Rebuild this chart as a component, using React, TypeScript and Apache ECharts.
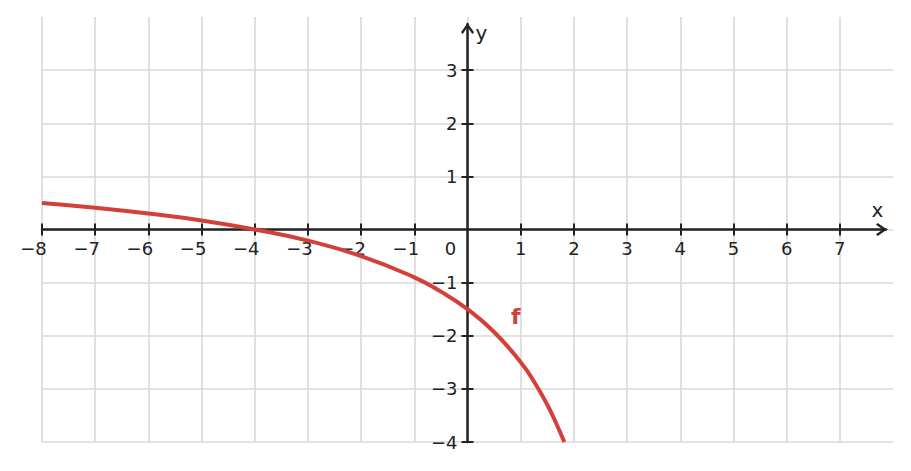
import React, { useEffect, useRef } from "react";
import * as echarts from "echarts";

// ---- data ----
const X_TICKS = [-8, -7, -6, -5, -4, -3, -2, -1, 1, 2, 3, 4, 5, 6, 7];
const X_LABELS = [-8, -7, -6, -5, -4, -3, -2, -1, 0, 1, 2, 3, 4, 5, 6, 7];
const Y_TICKS = [-4, -3, -2, -1, 1, 2, 3];
const Y_LABELS = [-4, -3, -2, -1, 1, 2, 3];
const CURVE_X = [-8, -7, -6, -5, -4, -3, -2, -1, -0.5, 0, 0.5, 1, 1.25, 1.5, 1.65, 1.82];
const CURVE_Y = [0.5, 0.41, 0.3, 0.17, 0, -0.21, -0.5, -0.9, -1.17, -1.5, -1.93, -2.5, -2.86, -3.3, -3.61, -4.0];
const CURVE_NAME = "f";
const CURVE_LABEL_AT = [0.91, -1.63];

const W = 911;
const H = 471;
const FONT = "DejaVu Sans";
const AXIS_COLOR = "#222222";
const GRID_COLOR = "#d9d9d9";
const CURVE_COLOR = "#d43f3a";

const ARROW = "path://M6.5,0L13,9.3L11.3,11L6.5,4.1L1.7,11L0,9.3Z";

export default function App() {
  const ref = useRef<HTMLDivElement>(null);
  useEffect(() => {
    document.body.style.margin = "0";
    if (!ref.current) return;
    const chart = echarts.init(ref.current, undefined, { renderer: "svg" });

    const L = 42, R = 18, T = 17, B = 29;
    const ux = (W - L - R) / 16;
    const uy = (H - T - B) / 8;
    const R1 = 25, T1 = 24;
    const xMax1 = -8 + (W - L - R1) / ux;
    const yMax1 = -4 + (H - T1 - B) / uy;
    // pixel distance of the zero lines from the grid-1 edges
    const zeroFromBottom = 4 * uy;
    const zeroFromTop = (H - T1 - B) - zeroFromBottom;
    const zeroFromLeft = 8 * ux;
    const zeroFromRight = (W - L - R1) - zeroFromLeft;

    const base = { fontFamily: FONT, fontSize: 18, color: AXIS_COLOR };
    const tickStyle = { color: AXIS_COLOR, width: 2 };

    const option: any = {
      animation: false,
      backgroundColor: "#ffffff",
      grid: [
        { left: L, right: R, top: T, bottom: B, outerBoundsMode: "none" },
        { left: L, right: R1, top: T1, bottom: B, outerBoundsMode: "none" },
      ],
      xAxis: [
        {
          gridIndex: 0, type: "value", min: -8, max: 8, interval: 1,
          axisLine: { show: false, onZero: false }, axisTick: { show: false }, axisLabel: { show: false },
          splitLine: { show: true, showMinLine: true, showMaxLine: false, lineStyle: { color: GRID_COLOR, width: 1.6 } },
        },
        {
          gridIndex: 1, type: "value", min: -8, max: xMax1, position: "bottom", offset: -zeroFromBottom,
          axisLine: {
            show: true, onZero: false, symbol: ["none", ARROW], symbolSize: [13, 11], symbolOffset: [0, -4.5],
            lineStyle: { color: AXIS_COLOR, width: 2.5 },
          },
          axisTick: { show: true, length: 6, lineStyle: tickStyle, customValues: X_TICKS },
          axisLabel: {
            show: true, customValues: X_LABELS, margin: 10, ...base,
            formatter: (v: number) => (v === 0 ? "{z|0}" : v < 0 ? `{n|\u2212${-v}}` : `{p|${v}}`),
            rich: { p: { ...base }, n: { ...base, padding: [0, 17, 0, 0] }, z: { ...base, padding: [0, 34, 0, 0] } },
          },
          splitLine: { show: false },
          name: "x", nameLocation: "end", nameGap: -8.5,
          nameTextStyle: { fontFamily: FONT, fontSize: 20, color: AXIS_COLOR, align: "center", verticalAlign: "bottom", padding: [0, 0, 10, 0] },
        },
        {
          gridIndex: 1, type: "value", min: -8, max: xMax1, position: "top", offset: -zeroFromTop,
          axisLine: { show: false, onZero: false },
          axisTick: { show: true, length: 6, lineStyle: tickStyle, customValues: X_TICKS },
          axisLabel: { show: false }, splitLine: { show: false },
        },
      ],
      yAxis: [
        {
          gridIndex: 0, type: "value", min: -4, max: 4, interval: 1,
          axisLine: { show: false, onZero: false }, axisTick: { show: false }, axisLabel: { show: false },
          splitLine: { show: true, showMinLine: true, showMaxLine: false, lineStyle: { color: GRID_COLOR, width: 1.6 } },
        },
        {
          gridIndex: 1, type: "value", min: -4, max: yMax1, position: "left", offset: -zeroFromLeft,
          axisLine: {
            show: true, onZero: false, symbol: ["none", ARROW], symbolSize: [13, 11], symbolOffset: [0, -4.5],
            lineStyle: { color: AXIS_COLOR, width: 2.5 },
          },
          axisTick: { show: true, length: 6, lineStyle: tickStyle, customValues: Y_TICKS },
          axisLabel: {
            show: true, customValues: Y_LABELS, margin: 10, ...base,
            formatter: (v: number) => (v < 0 ? `\u2212${-v}` : `${v}`),
          },
          splitLine: { show: false },
          name: "y", nameLocation: "end", nameGap: -9,
          nameTextStyle: { fontFamily: FONT, fontSize: 20, color: AXIS_COLOR, align: "left", verticalAlign: "middle", padding: [0, 0, 0, 8] },
        },
        {
          gridIndex: 1, type: "value", min: -4, max: yMax1, position: "right", offset: -zeroFromRight,
          axisLine: { show: false, onZero: false },
          axisTick: { show: true, length: 6, lineStyle: tickStyle, customValues: Y_TICKS },
          axisLabel: { show: false }, splitLine: { show: false },
        },
      ],
      series: [
        {
          type: "line", name: CURVE_NAME, xAxisIndex: 0, yAxisIndex: 0,
          data: CURVE_X.map((x, i) => [x, CURVE_Y[i]]),
          smooth: true, showSymbol: false, z: 5,
          lineStyle: { color: CURVE_COLOR, width: 4 },
          markPoint: {
            symbol: "circle", symbolSize: 0, silent: true,
            label: { show: true, position: "inside", formatter: CURVE_NAME, color: CURVE_COLOR, fontWeight: "bold", fontSize: 22, fontFamily: FONT },
            data: [{ coord: CURVE_LABEL_AT }],
          },
        },
      ],
    };
    chart.setOption(option);
    return () => chart.dispose();
  }, []);
  return <div ref={ref} style={{ width: W, height: H }} />;
}
